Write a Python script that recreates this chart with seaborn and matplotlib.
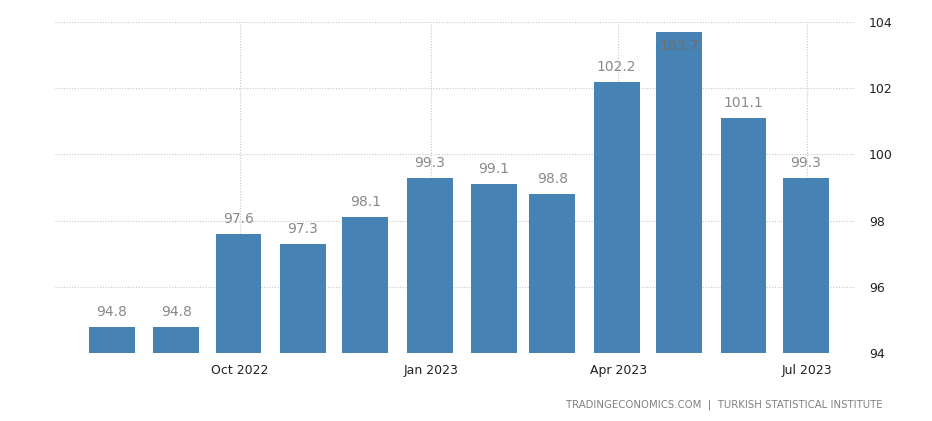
import matplotlib
matplotlib.use("Agg")
import matplotlib.pyplot as plt
import matplotlib.dates as mdates
import seaborn as sns
import pandas as pd
import numpy as np

months = ["2022-08-01", "2022-09-01", "2022-10-01", "2022-11-01", "2022-12-01", "2023-01-01",
          "2023-02-01", "2023-03-01", "2023-04-01", "2023-05-01", "2023-06-01", "2023-07-01"]
values = [94.8, 94.8, 97.6, 97.3, 98.1, 99.3, 99.1, 98.8, 102.2, 103.7, 101.1, 99.3]
tick_months = ["2022-10-01", "2023-01-01", "2023-04-01", "2023-07-01"]
tick_labels = ["Oct 2022", "Jan 2023", "Apr 2023", "Jul 2023"]
y_ticks = [94, 96, 98, 100, 102, 104]

sns.set_theme(style="white")
plt.rcParams['font.family'] = ['DejaVu Sans']

dates = pd.to_datetime(months)
xnum = mdates.date2num(dates)
df = pd.DataFrame({"x": xnum - 0.7, "value": values})

fig = plt.figure(figsize=(9.32, 4.21), dpi=100)
ax = fig.add_axes([55 / 932, 68 / 421, 800 / 932, 331 / 421])

sns.barplot(data=df, x="x", y="value", native_scale=True, width=22 / 28,
            color="#4682B4", saturation=1, ax=ax, zorder=3, edgecolor="none")

ax.set_ylim(94, 104)
xmin = mdates.date2num(pd.Timestamp("2022-07-04"))
xmax = mdates.date2num(pd.Timestamp("2023-07-24"))
ax.set_xlim(xmin, xmax)

tnum = mdates.date2num(pd.to_datetime(tick_months))
ax.set_xticks(tnum)
ax.set_xticklabels(tick_labels, fontsize=9, color="#222222")
ax.set_yticks(y_ticks)
ax.set_yticklabels([str(v) for v in y_ticks], fontsize=9, color="#222222")
ax.yaxis.tick_right()
ax.tick_params(axis="y", length=0, pad=10)
ax.tick_params(axis="x", length=4, color="#cccccc", width=0.8, pad=4, direction="out")
ax.set_xlabel("")
ax.set_ylabel("")

for s in ax.spines.values():
    s.set_visible(False)

ax.grid(True, axis="both", color="#c8c8c8", linestyle=(0, (1, 1.5)), linewidth=0.8, zorder=0)
ax.set_axisbelow(True)

for xv, v in zip(df["x"], values):
    if v > 103.3:
        ax.text(xv, v - 0.42, f"{v}", ha="center", va="center", fontsize=10, color="#6e6e6e", zorder=5)
    else:
        ax.text(xv, v + 0.45, f"{v}", ha="center", va="center", fontsize=10, color="#8a8a8a", zorder=5)

fig.text(883 / 932, 1 - 405 / 421, "TRADINGECONOMICS.COM  |  TURKISH STATISTICAL INSTITUTE",
         ha="right", va="center", fontsize=7.3, color="#808080")

fig.savefig("out.png", dpi=100)
